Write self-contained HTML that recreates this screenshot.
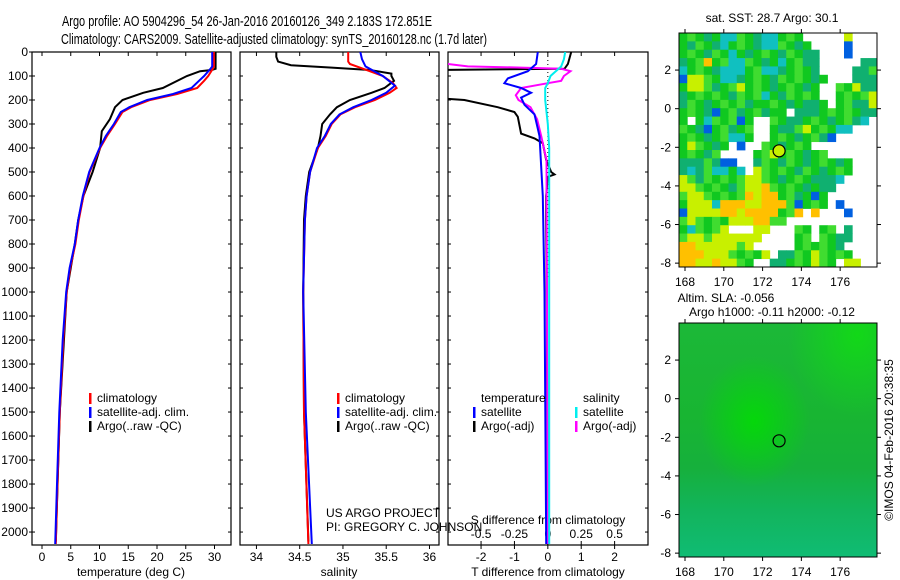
<!DOCTYPE html>
<html><head><meta charset="utf-8"><style>
html,body{margin:0;padding:0;background:#fff}
svg{display:block;font-family:"Liberation Sans",sans-serif}
text{fill:#000}
</style></head><body>
<svg id="c" width="900" height="580" viewBox="0 0 900 580" xmlns="http://www.w3.org/2000/svg">
<defs>
<clipPath id="cp1"><rect x="32" y="52" width="199" height="493"/></clipPath>
<clipPath id="cp2"><rect x="240" y="52" width="199" height="493"/></clipPath>
<clipPath id="cp3"><rect x="448" y="52" width="200" height="493"/></clipPath>
<linearGradient id="slaV" x1="0" y1="0" x2="0" y2="1">
<stop offset="0" stop-color="#1cb838"/><stop offset="0.4" stop-color="#18b532"/><stop offset="0.62" stop-color="#16b03c"/><stop offset="0.8" stop-color="#12b45c"/><stop offset="1" stop-color="#10bc74"/></linearGradient>
<radialGradient id="slaR" cx="0.38" cy="0.42" r="0.28"><stop offset="0" stop-color="#00e000" stop-opacity="0.8"/><stop offset="1" stop-color="#00e000" stop-opacity="0"/></radialGradient>
<radialGradient id="slaR2" cx="0.9" cy="0.05" r="0.35"><stop offset="0" stop-color="#10e010" stop-opacity="0.8"/><stop offset="1" stop-color="#10e010" stop-opacity="0"/></radialGradient>
</defs>
<g id="root"></g>
</svg>
<script>
// depth axis
const depthTicks=[0,100,200,300,400,500,600,700,800,900,1000,1100,1200,1300,1400,1500,1600,1700,1800,1900,2000];
// temperature profiles [depth, value]
const tClimDepth=[0,60,70,100,120,150,175,200,230,250,300,350,400,500,600,700,800,900,1000,1200,1500,1800,2050];
const tClim=[29.9,29.9,29.7,28.9,28.2,27,23.5,18.8,15.5,14,12.7,11.3,10.1,8.3,7.2,6.4,5.8,4.9,4.3,3.7,3.1,2.7,2.4];
const tSatDepth=[0,60,70,100,120,150,175,200,230,250,300,350,400,500,600,700,800,900,1000,1200,1500,1800,2050];
const tSat=[29.6,29.6,29.3,28.2,27.3,26,22.8,18.3,15.2,13.7,12.5,11.1,10.0,8.2,7.1,6.3,5.7,4.8,4.2,3.6,3.0,2.6,2.3];
const tArgoDepth=[0,70,75,80,100,150,170,200,230,280,330,400,500,600,700,800,1000,1500,2040];
const tArgo=[30.2,30.2,29.5,27.5,25.2,21,17.6,14,12.7,11.8,10.4,10.1,8.8,7.2,6.3,5.7,4.3,3.1,2.4];
// salinity profiles
const sClimDepth=[0,40,50,80,100,130,150,170,200,230,260,300,350,400,500,600,700,1000,1500,2050];
const sClim=[35.06,35.06,35.08,35.31,35.46,35.58,35.62,35.54,35.37,35.14,34.97,34.87,34.8,34.71,34.62,34.58,34.56,34.54,34.55,34.6];
const sSatDepth=[0,30,60,100,140,170,200,230,260,300,350,400,500,600,700,1000,1500,2050];
const sSat=[35.2,35.22,35.26,35.46,35.6,35.5,35.33,35.12,34.96,34.86,34.79,34.7,34.62,34.58,34.56,34.54,34.57,34.64];
const sArgoDepth=[0,20,40,55,65,75,90,100,120,150,170,200,230,260,300,350,400,500,600,700,1000,1500,2040];
const sArgo=[34.23,34.23,34.25,34.4,34.87,35.31,35.56,35.56,35.59,35.48,35.33,35.08,34.93,34.85,34.76,34.74,34.71,34.61,34.57,34.55,34.54,34.55,34.6];
// differences from climatology
const dTSatDepth=[0,50,80,110,130,150,170,190,220,260,350,600,1000,2050];
const dTSat=[-0.3,-0.35,-0.6,-1.2,-1.3,-0.8,-0.5,-0.8,-0.7,-0.4,-0.25,-0.15,-0.1,-0.05];
const dTArgoDepth=[0,50,70,75,190,200,230,250,270,340,360,380,450,500,510,520,600,700,1000,1500,2050];
const dTArgo=[0.7,0.6,0.5,-3.5,-3.5,-2.5,-1.5,-1,-0.9,-0.8,-0.4,-0.15,-0.05,0.1,0.2,0,-0.05,-0.05,-0.03,-0.02,0];
const dSSatDepth=[0,30,60,80,100,130,150,200,250,300,400,1000,2050];
const dSSat=[0.13,0.12,0.1,0.06,0.02,0,-0.02,-0.02,-0.01,0,0.01,0.01,0.01];
const dSArgoDepth=[0,50,60,65,70,80,100,120,130,150,180,200,230,280,350,450,2050];
const dSArgo=[-0.8,-0.75,-0.6,-0.2,0.1,0.17,0.12,0.1,0,-0.2,-0.24,-0.22,-0.13,-0.08,-0.05,-0.01,0];
// x tick labels
const tTicks=[0,5,10,15,20,25,30];
const sTicks=[34,34.5,35,35.5,36];
const dTTicks=[-2,-1,0,1,2];
const dSTicks=[-0.5,-0.25,0,0.25,0.5];
// maps
const lonTicks=[168,170,172,174,176];
const latTicks=[2,0,-2,-4,-6,-8];
const argoLon=172.851, argoLat=-2.183;
const sstRows=[
"glgtgcclgtccglg.....y...",
"gtlgtcglgtcclgtg....b...",
"glgtlgcgtglgtlgtt...b...",
"tgloglcclgtgcgltt.....tt",
"cglgtcccglcctglgt....ttl",
"byylgcctglgtlglgtg...ttt",
"gyyltglyglgtglgtg..lgytt",
"tglglgtlglcgtlglg..glgly",
"tlgtglgltgglgtgttg.gltty",
"glgtbgltgltgg.tttglglgtt",
"g.gclglbg..lgttglgtgltc.",
"lgtbgltgl..gttlyglgcc...",
"glgtglccg..glgtgltb.....",
"gylgtg.b..lgtglg........",
"glgtl....glyglgtgl......",
"tttltbb..tlgtlgtglgtg...",
"tctlccgc.ylglgtlgtglg...",
"yltlglglyylgtglgtttc....",
"yylglgtlyyolglgtgtt.....",
"lyylglgloyoogltgbg......",
"gyyycoooyyooolbglg.b....",
"byyyyooyooooglo o...b....",
"lylglgyyyooll...........",
"gclgly...yy...lg.gl.t...",
"lyylyyyyyy....gl.lgtt...",
"ooyyyyyly.....glglgt....",
"oooyyylglgy.ttlgylglg...",
"ooyyoyylg..ttglgylg.yy.."];
const sstColors={g:"#10c820",l:"#40dc30",t:"#10b070",c:"#10c0c0",b:"#0060e0",y:"#c8f000",o:"#ffc000"};

const NS="http://www.w3.org/2000/svg";
const root=document.getElementById('root');
function mk(tag,attrs,parent){const e=document.createElementNS(NS,tag);for(const k in attrs)e.setAttribute(k,attrs[k]);(parent||root).appendChild(e);return e;}
function txt(x,y,s,attrs,parent){const e=mk('text',Object.assign({x:x,y:y,'font-size':12},attrs||{}),parent);e.textContent=s;return e;}

const Y0=52,Y1=545,D0=0,D1=2054;
const yD=d=>Y0+(d-D0)/(D1-D0)*(Y1-Y0);
const panels=[
 {x0:32,x1:231,v0:-1.74,v1:32.87,clip:'cp1',name:'temperature-panel'},
 {x0:240,x1:439,v0:33.81,v1:36.11,clip:'cp2',name:'salinity-panel'},
 {x0:448,x1:648,v0:-2.99,v1:3.0,clip:'cp3',name:'difference-panel'}];
const xf=(p,v)=>p.x0+(v-p.v0)/(p.v1-p.v0)*(p.x1-p.x0);

// titles
let t1=txt(62,26,"Argo profile: AO 5904296_54 26-Jan-2016 20160126_349 2.183S 172.851E",{'font-size':15,textLength:370,lengthAdjust:'spacingAndGlyphs'});


let t2=txt(61,44,"Climatology: CARS2009. Satellite-adjusted climatology: synTS_20160128.nc (1.7d later)",{'font-size':15,textLength:426,lengthAdjust:'spacingAndGlyphs'});



// depth ticks labels
const yax=mk('g',{});


depthTicks.forEach(d=>{
 txt(28,yD(d)+4,String(d),{'text-anchor':'end'},yax);
 panels.forEach((p,i)=>{
  mk('line',{x1:p.x0-(i==0?3:0),x2:p.x0+3,y1:yD(d),y2:yD(d),stroke:'#000'},yax);
  mk('line',{x1:p.x1-3,x2:p.x1,y1:yD(d),y2:yD(d),stroke:'#000'},yax);
 });
});

panels.forEach(p=>{
 const f=mk('rect',{x:p.x0,y:Y0,width:p.x1-p.x0,height:Y1-Y0,fill:'none',stroke:'#000','stroke-width':1.2});
 
 
});

function xTicks(p,ticks,labelY,fmt,name,topTicks){
 const g=mk('g',{});
 
 
 ticks.forEach(v=>{
  const x=xf(p,v);
  mk('line',{x1:x,x2:x,y1:Y1,y2:Y1+4,stroke:'#000'},g);
  if(topTicks) mk('line',{x1:x,x2:x,y1:Y0,y2:Y0+4,stroke:'#000'},g);
  txt(x,labelY,fmt(v),{'text-anchor':'middle'},g);
 });
}
xTicks(panels[0],tTicks,561,v=>String(v),'temperature-x-axis',true);
xTicks(panels[1],sTicks,561,v=>String(v),'salinity-x-axis',true);
xTicks(panels[2],dTTicks,561,v=>String(v),'t-difference-x-axis',true);
{const g=mk('g',{});
 
 
 dSTicks.forEach(v=>{const x=xf(panels[2],v*4);mk('line',{x1:x,x2:x,y1:Y1,y2:Y1-4,stroke:'#000'},g);
  txt(x,538,String(v),{'text-anchor':'middle'},g);});}

let l;
l=txt(131,576,"temperature (deg C)",{'text-anchor':'middle'});
l=txt(339,576,"salinity",{'text-anchor':'middle'});
l=txt(548,576,"T difference from climatology",{'text-anchor':'middle'});
l=txt(548,524,"S difference from climatology",{'text-anchor':'middle'});
l=txt(326,517,"US ARGO PROJECT");
l=txt(326,531,"PI: GREGORY C. JOHNSON");

{const x=xf(panels[2],0);const z=mk('line',{x1:x,x2:x,y1:Y0,y2:yD(950),stroke:'#000','stroke-dasharray':'1,3'});
 }

function series(p,ds,vs,color,name,scale){
 const pts=ds.map((d,i)=>xf(p,vs[i]*(scale||1)).toFixed(1)+','+yD(d).toFixed(1)).join(' ');
 const e=mk('polyline',{points:pts,fill:'none',stroke:color,'stroke-width':2,'clip-path':'url(#'+p.clip+')'});
 
 
}
series(panels[0],tArgoDepth,tArgo,'#000','temperature-argo-line');
series(panels[0],tClimDepth,tClim,'#f00','temperature-climatology-line');
series(panels[0],tSatDepth,tSat,'#00f','temperature-satellite-line');
series(panels[1],sArgoDepth,sArgo,'#000','salinity-argo-line');
series(panels[1],sClimDepth,sClim,'#f00','salinity-climatology-line');
series(panels[1],sSatDepth,sSat,'#00f','salinity-satellite-line');
series(panels[2],dTArgoDepth,dTArgo,'#000','t-diff-argo-line');
series(panels[2],dSArgoDepth,dSArgo,'#f0f','s-diff-argo-line',4);
series(panels[2],dSSatDepth,dSSat,'#0ee','s-diff-satellite-line',4);
series(panels[2],dTSatDepth,dTSat,'#00f','t-diff-satellite-line');

function legend(x,y,items,name){
 const g=mk('g',{});
 
 
 items.forEach((it,i)=>{
  if(it[1]) mk('rect',{x:x,y:y+i*14-9,width:2.5,height:11,fill:it[1]},g);
  txt(x+8,y+i*14,it[0],{},g);
 });
}
legend(89,402,[["climatology","#f00"],["satellite-adj. clim.","#00f"],["Argo(..raw -QC)","#000"]],'temperature-legend');
legend(337,402,[["climatology","#f00"],["satellite-adj. clim.","#00f"],["Argo(..raw -QC)","#000"]],'salinity-legend');
legend(473,402,[["temperature",null],["satellite","#00f"],["Argo(-adj)","#000"]],'t-diff-legend');
legend(575,402,[["salinity",null],["satellite","#0ee"],["Argo(-adj)","#f0f"]],'s-diff-legend');

// maps
const M={x0:679,x1:877,lon0:167.69,lon1:177.9};
const mx=lon=>M.x0+(lon-M.lon0)/(M.lon1-M.lon0)*(M.x1-M.x0);
function mapFrame(y0,y1,lat0,lat1,name){
 const my=lat=>y0+(lat0-lat)/(lat0-lat1)*(y1-y0);
 const g=mk('g',{});
 
 
 mk('rect',{x:M.x0,y:y0,width:M.x1-M.x0,height:y1-y0,fill:'none',stroke:'#000'},g);
 lonTicks.forEach(v=>{const x=mx(v);mk('line',{x1:x,x2:x,y1:y1,y2:y1+4,stroke:'#000'},g);mk('line',{x1:x,x2:x,y1:y0,y2:y0-4,stroke:'#000'},g);txt(x,y1+19,String(v),{'text-anchor':'middle'},g);});
 latTicks.forEach(v=>{const y=my(v);mk('line',{x1:M.x0-4,x2:M.x0,y1:y,y2:y,stroke:'#000'},g);mk('line',{x1:M.x1,x2:M.x1+4,y1:y,y2:y,stroke:'#000'},g);txt(M.x0-8,y+4,String(v),{'text-anchor':'end'},g);});
 const c=mk('circle',{cx:mx(argoLon),cy:my(argoLat),r:6,fill:name==='sst-map'?'#c8f000':'none',stroke:'#000','stroke-width':1.2});
 
 
 return my;
}
{const y0=33,y1=267;const g=mk('g',{});
 
 
 const nr=sstRows.length,nc=24,cw=(M.x1-M.x0)/nc,ch=(y1-y0)/nr;
 sstRows.forEach((row,r)=>{for(let c=0;c<nc;c++){const k=row[c];if(!k||!sstColors[k])continue;
  mk('rect',{x:(M.x0+c*cw).toFixed(2),y:(y0+r*ch).toFixed(2),width:(cw+0.4).toFixed(2),height:(ch+0.4).toFixed(2),fill:sstColors[k]},g);}});
 mapFrame(y0,y1,3.92,-8.2,'sst-map');}
{const y0=323,y1=557;
 const bg=mk('g',{});
 mk('rect',{x:M.x0,y:y0,width:M.x1-M.x0,height:y1-y0,fill:'url(#slaV)'},bg);
 mk('rect',{x:M.x0,y:y0,width:M.x1-M.x0,height:y1-y0,fill:'url(#slaR)'},bg);
 mk('rect',{x:M.x0,y:y0,width:M.x1-M.x0,height:y1-y0,fill:'url(#slaR2)'},bg);
 mapFrame(y0,y1,3.92,-8.2,'sla-map');}

l=txt(772,22,"sat. SST: 28.7  Argo: 30.1",{'text-anchor':'middle'});
l=txt(726,302,"Altim. SLA: -0.056",{'text-anchor':'middle'});
l=txt(772,316,"Argo h1000: -0.11  h2000: -0.12",{'text-anchor':'middle'});
l=txt(0,0,"©IMOS 04-Feb-2016 20:38:35",{'text-anchor':'middle',transform:'translate(893,440) rotate(-90)'});
</script>
</body></html>
